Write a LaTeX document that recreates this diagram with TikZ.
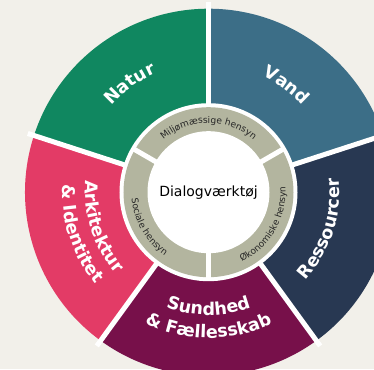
\documentclass[tikz,border=0pt]{standalone}
\usepackage{fontspec}
\setmainfont{DejaVu Sans}
\usetikzlibrary{decorations.text}

\definecolor{bgbeige}{HTML}{F2F0EA}
\definecolor{naturgreen}{HTML}{108760}
\definecolor{vandblue}{HTML}{3C6E87}
\definecolor{ressnavy}{HTML}{283852}
\definecolor{sundpurple}{HTML}{77104A}
\definecolor{arkred}{HTML}{E33B66}
\definecolor{ringgray}{HTML}{B3B59F}

\newcommand{\outerfont}{\fontsize{17.5}{19}\selectfont\bfseries}
\newcommand{\ringfont}{\fontsize{9.1}{10}\selectfont}

\begin{document}
\begin{tikzpicture}[
    x=1pt, y=1pt,
    divider/.style={draw=white,line width=5pt},
    outerlabel/.style={decorate,decoration={text along path,text color=white,
        text align=center,text={|\outerfont|#1}}},
    ringlabel/.style={decorate,decoration={text along path,text color=black!85,
        text align=center,text={|\ringfont|#1}}}]
  \useasboundingbox (-208.5,-176.8) rectangle (165.5,192.2);
  \fill[bgbeige] (-208.5,-176.8) rectangle (165.5,192.2);
  \clip (-208.5,-176.8) rectangle (165.5,192.2);
  % outer sectors
  \foreach \col/\a in {vandblue/18, naturgreen/90, arkred/162, sundpurple/234, ressnavy/306}
    \fill[\col] (0,0) -- (\a:183.5) arc[start angle=\a, delta angle=72, radius=183.5] -- cycle;
  \foreach \a in {18,90,162,234,306}
    \draw[divider] (0,0) -- (\a:190);
  \fill[white] (0,0) circle[radius=89];
  % inner ring
  \fill[ringgray] (0,0) circle[radius=85];
  \foreach \a in {30,150,270}
    \draw[divider] (0,0) -- (\a:87);
  \fill[white] (0,0) circle[radius=61];
  \node[font=\fontsize{14}{16}\selectfont] (centre) at (0,0) {Dialogværktøj};
  % labels
  \path[outerlabel={Natur}] (160:130) arc[start angle=160, end angle=92, radius=130];
  \path[outerlabel={Vand}] (88:128) arc[start angle=88, end angle=20, radius=128];
  \path[outerlabel={Ressourcer}] (-50:131) arc[start angle=-50, end angle=14, radius=131];
  \path[outerlabel={Sundhed}] (238:123) arc[start angle=238, end angle=302, radius=123];
  \path[outerlabel={{\&} Fællesskab}] (238:146) arc[start angle=238, end angle=302, radius=146];
  \path[outerlabel={Arkitektur}] (166:123) arc[start angle=166, end angle=230, radius=123];
  \path[outerlabel={{\&} Identitet}] (166:146) arc[start angle=166, end angle=230, radius=146];
  \path[ringlabel={Miljømæssige hensyn}] (148:69) arc[start angle=148, end angle=32, radius=69];
  \path[ringlabel={Økonomiske hensyn}] (-88:77) arc[start angle=-88, end angle=28, radius=77];
  \path[ringlabel={Sociale hensyn}] (152:77) arc[start angle=152, end angle=268, radius=77];
\end{tikzpicture}
\end{document}
